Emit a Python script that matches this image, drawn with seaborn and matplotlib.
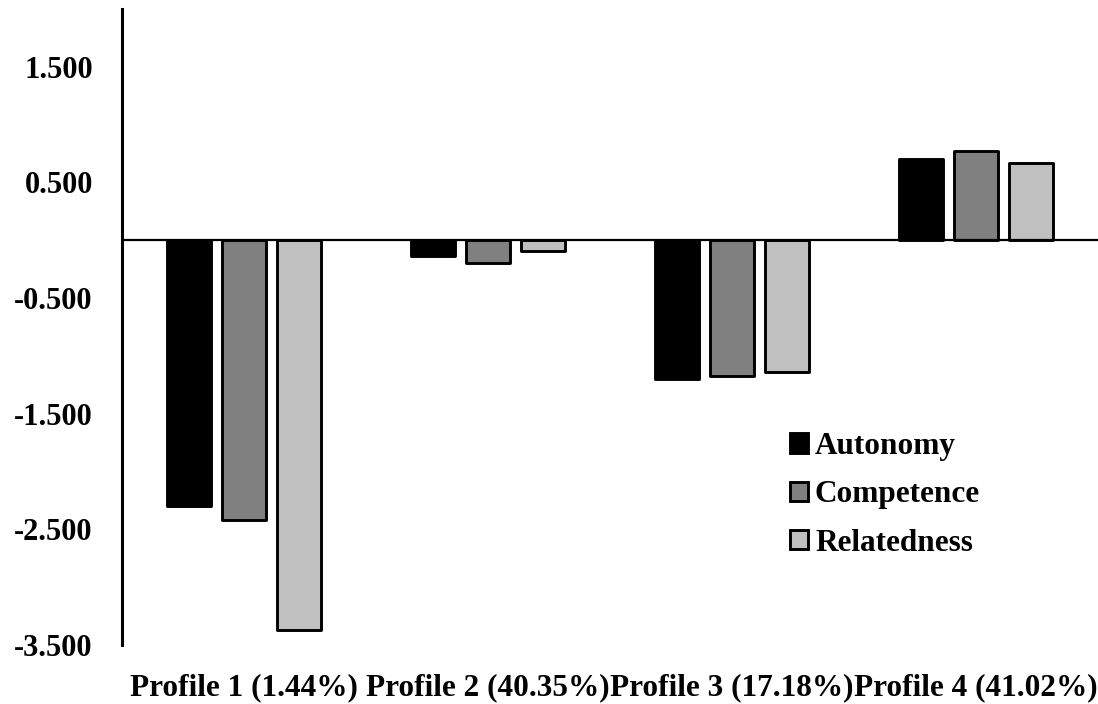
import matplotlib
matplotlib.use("Agg")
import matplotlib.pyplot as plt
import seaborn as sns
import pandas as pd

profiles = ["Profile 1 (1.44%)", "Profile 2 (40.35%)", "Profile 3 (17.18%)", "Profile 4 (41.02%)"]
needs = ["Autonomy", "Competence", "Relatedness"]
autonomy = [-2.30, -0.136, -1.20, 0.70]
competence = [-2.42, -0.20, -1.17, 0.77]
relatedness = [-3.37, -0.093, -1.14, 0.67]
colors = ["#000000", "#808080", "#C0C0C0"]
yticks = [-3.5, -2.5, -1.5, -0.5, 0.5, 1.5]
ytick_labels = ["-3.500", "-2.500", "-1.500", "-0.500", "0.500", "1.500"]

rows = []
for need, vals in zip(needs, [autonomy, competence, relatedness]):
    for p, v in zip(profiles, vals):
        rows.append({"profile": p, "need": need, "value": v})
df = pd.DataFrame(rows)

sns.set_theme(style="white")
plt.rcParams["font.family"] = ["Liberation Serif", "DejaVu Serif"]
plt.rcParams["font.weight"] = "bold"
plt.rcParams["text.color"] = "black"

fig = plt.figure(figsize=(10.98, 7.04), dpi=100)
ax = fig.add_axes([122 / 1098, 1 - 645 / 704, 1 - 122 / 1098, (645 - 9) / 704])

sns.barplot(data=df, x="profile", y="value", hue="need", order=profiles, hue_order=needs,
            palette=colors, width=0.675, gap=0.19, edgecolor="black", linewidth=2.1,
            ax=ax, zorder=3)
for p in ax.patches:
    p.set_joinstyle("round")

ax.axhline(0, color="black", linewidth=1.6, zorder=4)
ax.set_xlim(-0.5, 3.5)
ax.set_ylim(-3.5, 2.0)
ax.set_yticks(yticks)
ax.set_yticklabels(ytick_labels)
ax.set_xlabel("")
ax.set_ylabel("")
for s in ["top", "right", "bottom"]:
    ax.spines[s].set_visible(False)
ax.spines["left"].set_color("black")
ax.spines["left"].set_linewidth(2.2)
ax.tick_params(axis="y", length=0, pad=21, labelsize=22)
ax.tick_params(axis="x", length=0, pad=20, labelsize=22.5)
for lab in ax.get_xticklabels() + ax.get_yticklabels():
    lab.set_fontweight("bold")
    lab.set_color("black")
ax.grid(False)

leg = ax.legend(frameon=False, loc="upper left", bbox_to_anchor=(790 / 1098, 1 - 432 / 704),
                bbox_transform=fig.transFigure, borderpad=0, borderaxespad=0,
                handlelength=0.58, handleheight=0.58, handletextpad=0.22, labelspacing=0.62,
                prop={"family": "Liberation Serif", "weight": "bold", "size": 22.5})
for t in leg.get_texts():
    t.set_color("black")
for h in leg.legend_handles:
    h.set_edgecolor("black")
    h.set_linewidth(2.1)

fig.savefig("out.png", dpi=100)
